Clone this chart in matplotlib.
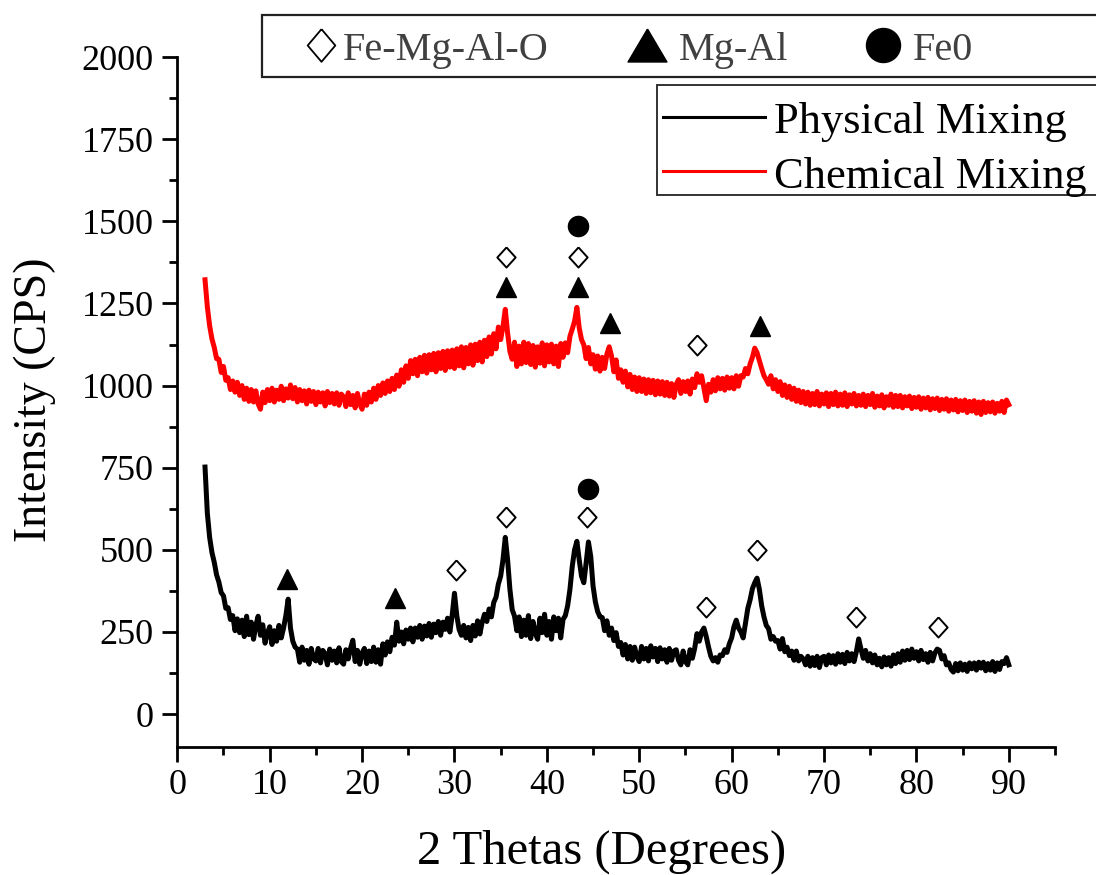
import numpy as np
import matplotlib
matplotlib.use("Agg")
import matplotlib.pyplot as plt
from matplotlib.patches import Rectangle
from matplotlib.ticker import MultipleLocator

plt.rcParams['font.family'] = ['Liberation Serif', 'DejaVu Serif']

# XRD scans: 2-theta from 3 to 90 degrees in 0.25 degree steps, one row per degree
two_theta_start = 3.0
two_theta_step = 0.25

physical_mixing = [
    752, 612, 538, 492,   462, 424, 402, 370,   360, 322, 324, 288,
    300, 254, 290, 248,   286, 236, 298, 242,   280, 228, 270, 298,
    240, 272, 216, 246,   266, 212, 254, 222,   270, 232, 262, 300,
    350, 262, 222, 204,   198, 158, 204, 164,   194, 152, 200, 168,
    162, 200, 156, 194,   184, 150, 198, 164,   192, 156, 202, 160,
    152, 196, 168, 200,   225, 160, 194, 152,   186, 200, 154, 192,
    160, 204, 158, 196,   152, 214, 180, 220,   190, 234, 210, 280,
    222, 250, 214, 256,   228, 262, 220, 262,   234, 270, 228, 268,
    238, 276, 234, 274,   248, 282, 240, 280,   258, 292, 250, 300,
    368, 300, 258, 240,   270, 232, 264, 224,   270, 238, 284, 244,
    280, 304, 282, 320,   296, 340, 356, 396,   420, 470, 538, 470,
    380, 318, 298, 254,   296, 236, 286, 240,   300, 230, 282, 246,
    228, 292, 248, 304,   240, 282, 228, 296,   254, 292, 232, 288,
    300, 330, 380, 450,   500, 526, 470, 420,   400, 460, 524, 480,
    390, 342, 312, 296,   294, 254, 284, 240,   262, 224, 248, 206,
    218, 180, 212, 168,   206, 164, 204, 174,   160, 206, 168, 200,
    162, 208, 174, 200,   160, 202, 168, 196,   158, 200, 164, 192,
    196, 164, 150, 192,   160, 150, 196, 170,   200, 245, 222, 250,
    262, 236, 204, 176,   162, 172, 158, 180,   178, 196, 188, 214,
    232, 266, 286, 262,   250, 232, 276, 322,   348, 382, 400, 414,
    380, 330, 296, 270,   260, 228, 236, 222,   224, 198, 230, 190,
    204, 178, 192, 164,   192, 162, 176, 168,   150, 176, 146, 172,
    148, 176, 142, 172,   176, 150, 180, 156,   178, 152, 184, 158,
    182, 154, 188, 162,   184, 160, 190, 229,   198, 170, 194, 162,
    184, 156, 180, 150,   170, 144, 174, 150,   172, 146, 180, 154,
    184, 158, 192, 164,   194, 166, 198, 170,   190, 162, 194, 166,
    184, 158, 188, 162,   186, 198, 194, 168,   178, 150, 156, 136,
    128, 154, 132, 156,   134, 152, 130, 156,   138, 156, 134, 158,
    140, 158, 132, 154,   134, 160, 130, 156,   136, 160, 154, 172,
    150,
]

chemical_mixing = [
    1322, 1240, 1182, 1142,   1116, 1082, 1080, 1040,   1058, 1016, 1024, 988,
    1014, 980, 1010, 970,     1000, 958, 992, 952,      988, 950, 984, 944,
    928, 980, 948, 988,       954, 992, 950, 986,       958, 998, 954, 990,
    962, 1002, 960, 994,      950, 988, 954, 984,       944, 986, 952, 982,
    942, 980, 950, 978,       938, 982, 948, 976,       944, 978, 940, 974,
    966, 936, 978, 942,       970, 932, 976, 944,       928, 974, 940, 980,
    950, 992, 958, 1000,      970, 1008, 976, 1014,     982, 1022, 988, 1032,
    998, 1048, 1010, 1060,    1022, 1076, 1036, 1080,   1030, 1086, 1042, 1092,
    1038, 1094, 1048, 1098,   1042, 1100, 1052, 1104,   1046, 1106, 1056, 1108,
    1052, 1112, 1060, 1118,   1054, 1116, 1066, 1124,   1062, 1126, 1076, 1132,
    1072, 1138, 1088, 1148,   1096, 1158, 1112, 1178,   1140, 1180, 1232, 1160,
    1104, 1080, 1132, 1058,   1120, 1066, 1132, 1070,   1128, 1064, 1122, 1056,
    1118, 1068, 1130, 1060,   1124, 1072, 1126, 1066,   1120, 1058, 1128, 1086,
    1130, 1100, 1150, 1172,   1196, 1238, 1176, 1140,   1124, 1082, 1116, 1066,
    1094, 1050, 1090, 1044,   1086, 1052, 1096, 1118,   1090, 1042, 1078, 1022,
    1048, 1010, 1044, 996,    1034, 988, 1026, 982,     1024, 982, 1020, 976,
    1018, 978, 1016, 972,     1014, 974, 1012, 970,     1010, 968, 1006, 964,
    1004, 1018, 976, 1012,    982, 1014, 974, 1020,     994, 1036, 1010, 1030,
    992, 954, 1004, 980,      1018, 984, 1024, 990,     1022, 986, 1026, 992,
    1024, 990, 1030, 998,     1030, 1026, 1052, 1036,   1066, 1086, 1114, 1100,
    1076, 1052, 1030, 1018,   1004, 1030, 990, 1018,    982, 1012, 970, 1002,
    964, 998, 958, 992,       952, 986, 948, 982,       944, 980, 940, 976,
    942, 982, 938, 974,       944, 978, 936, 976,       942, 980, 938, 974,
    940, 978, 936, 972,       944, 976, 938, 970,       940, 974, 936, 970,
    942, 976, 934, 968,       938, 972, 932, 966,       940, 974, 934, 970,
    936, 970, 932, 966,       938, 968, 930, 964,       934, 966, 928, 962,
    932, 964, 926, 960,       930, 962, 924, 958,       928, 960, 922, 956,
    926, 958, 920, 954,       924, 956, 918, 952,       922, 954, 916, 950,
    912, 952, 918, 948,       920, 950, 916, 946,       922, 952, 918, 956,
    942,
]

# Phase markers (2-theta, intensity) placed above the identified reflections
phys_femgalo_x = [30.2, 35.6, 44.3, 57.2, 62.7, 73.5, 82.3]
phys_femgalo_y = [438, 600, 600, 326, 499, 295, 265]
phys_mgal_x = [11.9, 23.6]
phys_mgal_y = [411, 353]
phys_fe0_x = [44.4]
phys_fe0_y = [685]

chem_femgalo_x = [35.6, 43.4, 56.2]
chem_femgalo_y = [1391, 1391, 1123]
chem_mgal_x = [35.6, 43.4, 46.8, 63.1]
chem_mgal_y = [1300, 1300, 1190, 1181]
chem_fe0_x = [43.4]
chem_fe0_y = [1485]

phase_labels = ['Fe-Mg-Al-O', 'Mg-Al', 'Fe0']
series_labels = ['Physical Mixing', 'Chemical Mixing']
series_colors = ['black', '#ff0000']

two_theta = two_theta_start + two_theta_step * np.arange(len(physical_mixing))

W, H = 1096, 875
fig = plt.figure(figsize=(W / 100, H / 100), dpi=100)
ax = fig.add_axes([177.3 / W, 1 - 747 / H, (1055 - 177.3) / W, (747 - 57) / H])

ax.plot(two_theta, physical_mixing, color=series_colors[0], lw=3.6)
ax.plot(two_theta, chemical_mixing, color=series_colors[1], lw=3.6)

diamond = [(0, 1.1), (1, 0), (0, -1.1), (-1, 0), (0, 1.1)]
mk = 14.5
ax.plot(phys_femgalo_x, phys_femgalo_y, ls='none', marker=diamond, ms=mk,
        mfc='white', mec='black', mew=1.4)
ax.plot(chem_femgalo_x, chem_femgalo_y, ls='none', marker=diamond, ms=mk,
        mfc='white', mec='black', mew=1.4)
ax.plot(phys_mgal_x, phys_mgal_y, ls='none', marker='^', ms=mk, color='black')
ax.plot(chem_mgal_x, chem_mgal_y, ls='none', marker='^', ms=mk, color='black')
ax.plot(phys_fe0_x, phys_fe0_y, ls='none', marker='o', ms=mk, color='black')
ax.plot(chem_fe0_x, chem_fe0_y, ls='none', marker='o', ms=mk, color='black')

ax.set_xlim(0, 95)
ax.set_ylim(-100, 2000)
ax.xaxis.set_major_locator(MultipleLocator(10))
ax.xaxis.set_minor_locator(MultipleLocator(5))
ax.yaxis.set_major_locator(MultipleLocator(250))
ax.yaxis.set_minor_locator(MultipleLocator(125))
ax.set_xticks(np.arange(0, 91, 10))
ax.set_yticks(np.arange(0, 2001, 250))
for side in ['top', 'right']:
    ax.spines[side].set_visible(False)
for side in ['left', 'bottom']:
    ax.spines[side].set_linewidth(2.0)
ax.tick_params(which='major', direction='out', length=11, width=2.0, labelsize=26)
ax.tick_params(which='minor', direction='out', length=6, width=2.0)
ax.tick_params(axis='y', pad=6)
ax.tick_params(axis='x', pad=5)

ax.set_xlabel('2 Thetas (Degrees)', fontsize=35, va='baseline')
ax.xaxis.set_label_coords((602 - 177.3) / (1055 - 177.3), (747 - 864) / 690)
ax.set_ylabel('Intensity (CPS)', fontsize=33, va='center')
ax.yaxis.set_label_coords((35 - 177.3) / (1055 - 177.3), (747 - 400) / 690)

# Legend panels drawn on a pixel-coordinate overlay
ov = fig.add_axes([0, 0, 1, 1], zorder=5)
ov.set_xlim(0, W)
ov.set_ylim(H, 0)
ov.axis('off')

ov.add_patch(Rectangle((262, 15), 900, 62, fill=True, facecolor='white',
                       edgecolor='#222222', lw=1.6))
ov.plot([321], [45], marker=[(0, 1.18), (1, 0), (0, -1.18), (-1, 0), (0, 1.18)],
        ms=23.5, mfc='white', mec='black', mew=1.3, ls='none')
ov.plot([647], [45], marker=[(0, 1), (-1.18, -1), (1.18, -1), (0, 1)],
        ms=28, color='black', ls='none')
ov.plot([883], [45], marker='o', ms=24.5, color='black', ls='none')
for xt, lab in zip([343, 679, 913], phase_labels):
    ov.text(xt, 60, lab, fontsize=29, color='#404040', ha='left', va='baseline')

ov.add_patch(Rectangle((657, 85), 500, 110, fill=True, facecolor='white',
                       edgecolor='#333333', lw=1.4))
for yl, yb, lab, col in zip([117, 171], [133, 188], series_labels, series_colors):
    ov.plot([663, 765], [yl, yl], color=col, lw=2.2)
    ov.text(774, yb, lab, fontsize=32, color='black', ha='left', va='baseline')

fig.savefig('out.png', dpi=100)
